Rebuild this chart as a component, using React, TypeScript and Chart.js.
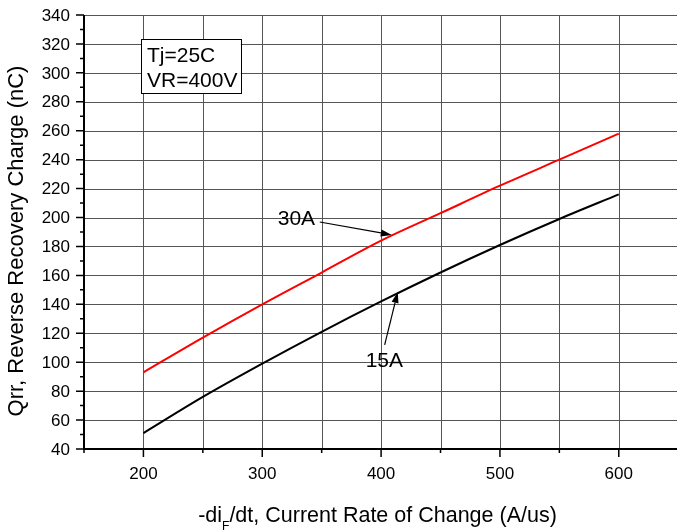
import React, { useEffect, useRef } from "react";
import { Chart, registerables } from "chart.js";

Chart.register(...registerables);

// ---- data ----
const xValues = [200, 250, 300, 350, 400, 450, 500, 550, 600];
const qrr30A = [93, 117, 140, 162, 184, 203, 222, 240, 258];
const qrr15A = [51, 76, 99, 121, 142, 162, 181, 199, 216];

const xMin = 150;
const xMax = 649;
const yMin = 40;
const yMax = 340;
const xLabelTicks = [200, 300, 400, 500, 600];
const xMinorTicks = [150, 250, 350, 450, 550];
const xGridValues = [200, 250, 300, 350, 400, 450, 500, 550, 600];
const yLabelTicks = [40, 60, 80, 100, 120, 140, 160, 180, 200, 220, 240, 260, 280, 300, 320, 340];
const yMinorTicks = [50, 70, 90, 110, 130, 150, 170, 190, 210, 230, 250, 270, 290, 310, 330];

const yTitle = "Qrr, Reverse Recovery Charge (nC)";
const xTitleA = "-di";
const xTitleSub = "F";
const xTitleB = "/dt, Current Rate of Change (A/us)";
const conditionLines = ["Tj=25C", "VR=400V"];
// label, text anchor (data), arrow tail (data), arrow tip (data)
const curveLabels = [
  { text: "30A", at: [313, 194.8], tail: [348.4, 196.9], tip: [409, 188] },
  { text: "15A", at: [387, 96.7], tail: [403, 112], tip: [414, 148.5] },
];

const FONT = "Arial, 'Liberation Sans', sans-serif";

const drawPlugin = {
  id: "customDraw",
  beforeDatasetsDraw(chart: any) {
    const { ctx, chartArea, scales } = chart;
    const xs = scales.x;
    const ys = scales.y;
    ctx.save();
    ctx.strokeStyle = "#555555";
    ctx.lineWidth = 1;
    for (const v of yLabelTicks) {
      const y = Math.round(ys.getPixelForValue(v)) + 0.5;
      ctx.beginPath();
      ctx.moveTo(chartArea.left, y);
      ctx.lineTo(chartArea.right, y);
      ctx.stroke();
    }
    for (const v of xGridValues) {
      const x = Math.round(xs.getPixelForValue(v)) + 0.5;
      ctx.beginPath();
      ctx.moveTo(x, chartArea.top);
      ctx.lineTo(x, chartArea.bottom);
      ctx.stroke();
    }
    ctx.restore();
  },
  afterDatasetsDraw(chart: any) {
    const { ctx, chartArea, scales } = chart;
    const xs = scales.x;
    const ys = scales.y;
    const px = (v: number) => xs.getPixelForValue(v);
    const py = (v: number) => ys.getPixelForValue(v);
    ctx.save();
    ctx.fillStyle = "#000";
    ctx.strokeStyle = "#000";

    // axes
    ctx.lineWidth = 2;
    ctx.beginPath();
    ctx.moveTo(chartArea.left, chartArea.top);
    ctx.lineTo(chartArea.left, chartArea.bottom + 1);
    ctx.moveTo(chartArea.left - 1, chartArea.bottom);
    ctx.lineTo(chartArea.right, chartArea.bottom);
    ctx.stroke();

    // tick marks
    ctx.lineWidth = 1.5;
    ctx.beginPath();
    for (const v of yLabelTicks) {
      const y = py(v);
      ctx.moveTo(chartArea.left - 8, y);
      ctx.lineTo(chartArea.left, y);
    }
    for (const v of yMinorTicks) {
      const y = py(v);
      ctx.moveTo(chartArea.left - 4, y);
      ctx.lineTo(chartArea.left, y);
    }
    for (const v of xLabelTicks) {
      const x = px(v);
      ctx.moveTo(x, chartArea.bottom);
      ctx.lineTo(x, chartArea.bottom + 8);
    }
    for (const v of xMinorTicks) {
      const x = px(v);
      ctx.moveTo(x, chartArea.bottom);
      ctx.lineTo(x, chartArea.bottom + 4);
    }
    ctx.stroke();

    // tick labels
    ctx.font = `17px ${FONT}`;
    ctx.textAlign = "right";
    ctx.textBaseline = "middle";
    for (const v of yLabelTicks) {
      ctx.fillText(String(v), chartArea.left - 14, py(v) + 1);
    }
    ctx.textAlign = "center";
    ctx.textBaseline = "alphabetic";
    for (const v of xLabelTicks) {
      ctx.fillText(String(v), px(v), chartArea.bottom + 30);
    }

    // y title
    ctx.save();
    ctx.font = `22px ${FONT}`;
    ctx.translate(23, 241);
    ctx.rotate(-Math.PI / 2);
    ctx.textAlign = "center";
    ctx.textBaseline = "alphabetic";
    ctx.fillText(yTitle, 0, 0);
    ctx.restore();

    // x title with subscript
    ctx.textAlign = "left";
    const big = `21.5px ${FONT}`;
    const small = `12px ${FONT}`;
    ctx.font = big;
    const wA = ctx.measureText(xTitleA).width;
    const wB = ctx.measureText(xTitleB).width;
    ctx.font = small;
    const wS = ctx.measureText(xTitleSub).width;
    const total = wA + wS + wB;
    const x0 = 377.5 - total / 2;
    const base = 521.5;
    ctx.font = big;
    ctx.fillText(xTitleA, x0, base);
    ctx.font = small;
    ctx.fillText(xTitleSub, x0 + wA, base + 8);
    ctx.font = big;
    ctx.fillText(xTitleB, x0 + wA + wS, base);

    // condition box
    const bx1 = px(198), bx2 = px(282);
    const by1 = py(323.2), by2 = py(285.9);
    ctx.fillStyle = "#fff";
    ctx.fillRect(bx1, by1, bx2 - bx1, by2 - by1);
    ctx.lineWidth = 1;
    ctx.strokeStyle = "#000";
    ctx.strokeRect(Math.round(bx1) + 0.5, Math.round(by1) + 0.5, Math.round(bx2 - bx1), Math.round(by2 - by1));
    ctx.fillStyle = "#000";
    ctx.font = `21px ${FONT}`;
    ctx.textAlign = "left";
    ctx.fillText(conditionLines[0], px(203), py(307.3));
    ctx.fillText(conditionLines[1], px(203), py(290));

    // curve labels & arrows
    for (const l of curveLabels) {
      ctx.font = `21px ${FONT}`;
      ctx.fillText(l.text, px(l.at[0]), py(l.at[1]));
      const tx = px(l.tail[0]), ty = py(l.tail[1]);
      const hx = px(l.tip[0]), hy = py(l.tip[1]);
      const ang = Math.atan2(hy - ty, hx - tx);
      const len = 11, half = 3.5;
      const bxp = hx - len * Math.cos(ang), byp = hy - len * Math.sin(ang);
      ctx.lineWidth = 1.2;
      ctx.beginPath();
      ctx.moveTo(tx, ty);
      ctx.lineTo(bxp, byp);
      ctx.stroke();
      ctx.beginPath();
      ctx.moveTo(hx, hy);
      ctx.lineTo(bxp + half * Math.sin(ang), byp - half * Math.cos(ang));
      ctx.lineTo(bxp - half * Math.sin(ang), byp + half * Math.cos(ang));
      ctx.closePath();
      ctx.fill();
    }
    ctx.restore();
  },
};

export default function App() {
  const ref = useRef<HTMLCanvasElement | null>(null);
  useEffect(() => {
    if (!ref.current) return;
    const chart = new Chart(ref.current, {
      type: "line",
      data: {
        datasets: [
          {
            label: "30A",
            data: xValues.map((x, i) => ({ x, y: qrr30A[i] })),
            borderColor: "#ff0000",
            borderWidth: 2,
            pointRadius: 0,
            cubicInterpolationMode: "monotone",
            fill: false,
          },
          {
            label: "15A",
            data: xValues.map((x, i) => ({ x, y: qrr15A[i] })),
            borderColor: "#000000",
            borderWidth: 2,
            pointRadius: 0,
            cubicInterpolationMode: "monotone",
            fill: false,
          },
        ],
      },
      options: {
        responsive: false,
        animation: false,
        devicePixelRatio: 1,
        layout: { padding: { left: 84, top: 15, right: 0, bottom: 82 } },
        plugins: { legend: { display: false }, tooltip: { enabled: false } },
        scales: {
          x: { type: "linear", min: xMin, max: xMax, display: false },
          y: { type: "linear", min: yMin, max: yMax, display: false },
        },
      },
      plugins: [drawPlugin],
    } as any);
    return () => chart.destroy();
  }, []);
  return (
    <div style={{ position: "fixed", left: 0, top: 0, width: 677, height: 531, background: "#fff" }}>
      <canvas ref={ref} width={677} height={531} style={{ display: "block" }} />
    </div>
  );
}
